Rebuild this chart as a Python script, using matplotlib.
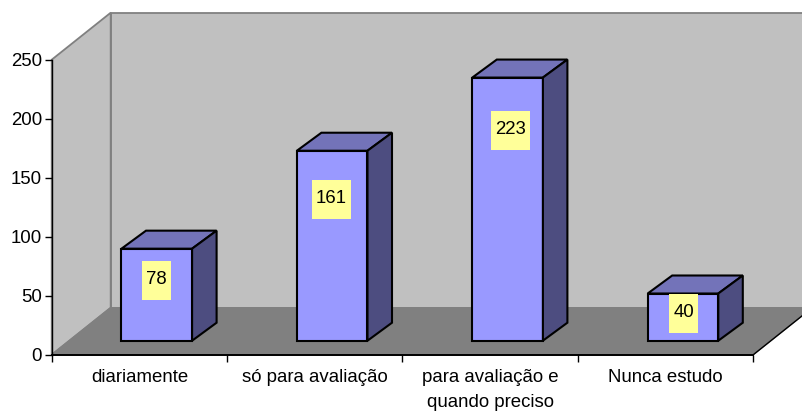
import matplotlib
matplotlib.use('Agg')
import matplotlib.pyplot as plt
from matplotlib.patches import Polygon, Rectangle

plt.rcParams['font.family'] = ['Liberation Sans', 'DejaVu Sans']

categorias = ['diariamente', 'só para avaliação', 'para avaliação e\nquando preciso', 'Nunca estudo']
valores = [78, 161, 223, 40]
# altura do centro de cada rótulo amarelo acima da base da barra
altura_rotulo = [51, 120, 178, 23]
# deslocamento horizontal de cada rótulo, em px, a partir do centro da categoria
desloc_rotulo = [17, 16.5, 20, 18]
y_ticks = [0, 50, 100, 150, 200, 250]

W, H = 802, 412
fig = plt.figure(figsize=(W / 100, H / 100), dpi=100)
# plano frontal do gráfico em pixels
left, right, top, bottom = 51.7, 753.3, 59.7, 354.7
ax = fig.add_axes([left / W, 1 - bottom / H, (right - left) / W, (bottom - top) / H])
ax.set_xlim(0, len(categorias))
ax.set_ylim(0, 250)

ux = (right - left) / len(categorias)  # px por categoria
uy = (bottom - top) / 250              # px por unidade
dx = 59 / ux     # profundidade da parede
dy = 47 / uy
bar_w = 70.6 / ux
bar_sx = 17.4 / ux   # deslocamento da face frontal da barra
bar_sy = 14 / uy
bar_dx = 24.5 / ux   # profundidade da barra
bar_dy = 18 / uy


def poly(pts, fc, ec, lw, z):
    ax.add_patch(Polygon(pts, closed=True, fc=fc, ec=ec, lw=lw, zorder=z,
                         clip_on=False, joinstyle='miter'))


n = len(categorias)
# paredes e chão
poly([(dx, dy), (n + dx, dy), (n + dx, 250 + dy), (dx, 250 + dy)], '#c0c0c0', '#808080', 1.3, 1)
poly([(0, 0), (dx, dy), (dx, 250 + dy), (0, 250)], '#c0c0c0', '#808080', 1.3, 1)
poly([(0, 0), (n, 0), (n + dx, dy), (dx, dy)], '#808080', '#808080', 1.0, 1)
ax.plot([n, n + dx], [0, dy], color='black', lw=1.0, clip_on=False, zorder=2)

# barras
for i, v in enumerate(valores):
    x0 = i + 0.5 - bar_w / 2 + bar_sx
    x1 = x0 + bar_w
    y0 = bar_sy
    y1 = bar_sy + v
    poly([(x0, y0), (x1, y0), (x1, y1), (x0, y1)], '#9999ff', 'black', 1.5, 3)
    poly([(x0, y1), (x1, y1), (x1 + bar_dx, y1 + bar_dy), (x0 + bar_dx, y1 + bar_dy)], '#7373b9', 'black', 1.5, 3)
    poly([(x1, y0), (x1 + bar_dx, y0 + bar_dy), (x1 + bar_dx, y1 + bar_dy), (x1, y1)], '#4d4d80', 'black', 1.5, 3)
    # rótulo de dados
    txt = str(v)
    cx = i + 0.5 + desloc_rotulo[i] / ux
    cy = bar_sy + altura_rotulo[i]
    larg = 39 if len(txt) == 3 else 29
    ax.add_patch(Rectangle((cx - larg / 2 / ux, cy - 19.5 / uy), larg / ux, 39 / uy,
                           fc='#ffff99', ec='none', zorder=4, clip_on=False))
    ax.text(cx, cy + 1 / uy, txt, ha='center', va='center', fontsize=13.4, color='black', zorder=5)

for s in ['top', 'right']:
    ax.spines[s].set_visible(False)
for s in ['left', 'bottom']:
    ax.spines[s].set_color('black')
    ax.spines[s].set_zorder(2)
ax.spines['left'].set_linewidth(1.0)
ax.spines['bottom'].set_linewidth(1.4)
ax.patch.set_visible(False)

ax.set_yticks(y_ticks)
ax.tick_params(axis='y', labelsize=13.4, length=5, width=1.0, pad=2)
ax.set_xticks(range(n + 1))
ax.set_xticklabels([])
ax.tick_params(axis='x', which='major', length=5, width=1.0)
ax.set_xticks([i + 0.5 for i in range(n)], minor=True)
ax.set_xticklabels(categorias, minor=True, fontsize=13.4, linespacing=1.64)
ax.tick_params(axis='x', which='minor', length=0, pad=10)

fig.savefig('out.png', dpi=100)
